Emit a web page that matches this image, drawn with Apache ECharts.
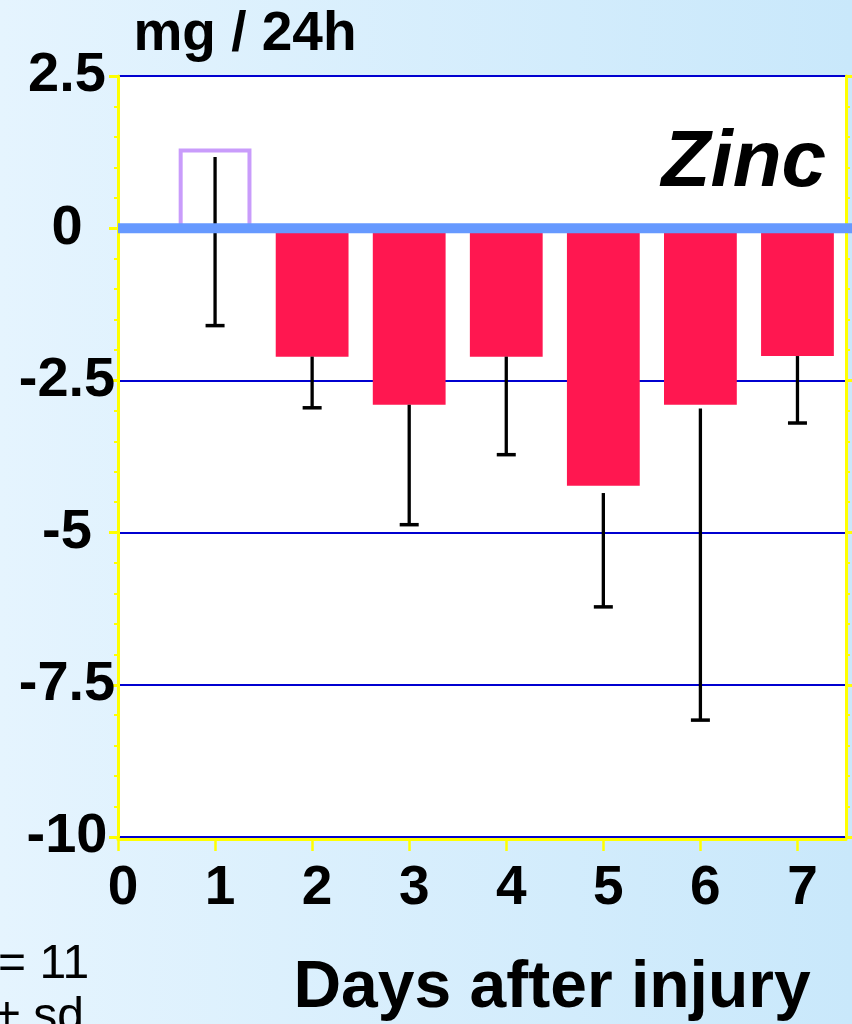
<!DOCTYPE html>
<html><head><meta charset="utf-8">
<script src="https://cdn.jsdelivr.net/npm/echarts@6/dist/echarts.min.js"></script>
<style>html,body{margin:0;padding:0;background:#fff;}#c{width:852px;height:1024px;}</style>
</head><body><div id="c"></div>
<script>
// ---- data ----
const days = [1, 2, 3, 4, 5, 6, 7];
const means = [1.31, -2.11, -2.9, -2.11, -4.23, -2.9, -2.1];
const sdHigh = [1.17, -2.11, -2.9, -2.11, -4.35, -2.96, -2.1];
const sdLow = [-1.6, -2.95, -4.87, -3.72, -6.22, -8.08, -3.2];
const xTicks = [0, 1, 2, 3, 4, 5, 6, 7];
const yTicks = [2.5, 0, -2.5, -5, -7.5, -10];
const yUnit = 'mg / 24h';
const xTitle = 'Days after injury';
const mineral = 'Zinc';
const noteN = 'n = 11';
const noteSd = '± sd';

const FONT = "'Liberation Sans', Arial, Helvetica, sans-serif";
const YEL = '#FFFF00';

const chart = echarts.init(document.getElementById('c'));
const yAxisCommon = {
  type: 'value', min: -10, max: 2.5, interval: 2.5
};
chart.setOption({
  animation: false,
  backgroundColor: {
    type: 'linear', x: 0, y: 0, x2: 1, y2: 0,
    colorStops: [{offset: 0, color: '#E5F4FE'}, {offset: 1, color: '#C9E8FB'}]
  },
  grid: {left: 118, right: 6, top: 76, bottom: 187, show: true, backgroundColor: '#FFFFFF', borderWidth: 0},
  xAxis: {
    type: 'value', min: 0, max: 7.5, interval: 1, offset: 2, z: 3,
    axisLine: {show: true, onZero: false, lineStyle: {color: YEL, width: 3}},
    axisTick: {show: true, length: 12, customValues: xTicks, lineStyle: {color: YEL, width: 2.5}},
    axisLabel: {
      customValues: xTicks, margin: 22, padding: [0, 0, 0, 10],
      color: '#000', fontFamily: FONT, fontWeight: 'bold', fontSize: 55
    },
    splitLine: {show: false}
  },
  yAxis: [
    Object.assign({}, yAxisCommon, {
      position: 'left',
      axisLine: {show: true, onZero: false, lineStyle: {color: YEL, width: 3}},
      axisTick: {show: true, length: 9, lineStyle: {color: YEL, width: 3}},
      minorTick: {show: true, splitNumber: 5, length: 4, lineStyle: {color: YEL, width: 2}},
      axisLabel: {
        customValues: yTicks, align: 'center', margin: 51,
        color: '#000', fontFamily: FONT, fontWeight: 'bold', fontSize: 56,
        formatter: v => String(v)
      },
      splitLine: {show: true, lineStyle: {color: '#0000D0', width: 2}}
    }),
    Object.assign({}, yAxisCommon, {
      position: 'right',
      axisLine: {show: true, onZero: false, lineStyle: {color: YEL, width: 3}},
      axisTick: {show: true, length: 6, lineStyle: {color: YEL, width: 3}},
      minorTick: {show: true, splitNumber: 5, length: 4, lineStyle: {color: YEL, width: 2}},
      axisLabel: {show: false},
      splitLine: {show: false}
    })
  ],
  graphic: [
    {type: 'text', x: 245, y: 35, style: {text: yUnit, font: "bold 55px " + FONT, fill: '#000', textAlign: 'center', textVerticalAlign: 'middle'}},
    {type: 'text', x: 826, y: 164, z: 10, style: {text: mineral, font: "italic bold 80px " + FONT, fill: '#000', textAlign: 'right', textVerticalAlign: 'middle'}},
    {type: 'text', x: 552, y: 989, style: {text: xTitle, font: "bold 66px " + FONT, fill: '#000', textAlign: 'center', textVerticalAlign: 'middle'}},
    {type: 'text', x: -42, y: 965, style: {text: noteN, font: "48px " + FONT, fill: '#000', textAlign: 'left', textVerticalAlign: 'middle'}},
    {type: 'text', x: 84, y: 1018, style: {text: noteSd, font: "48px " + FONT, fill: '#000', textAlign: 'right', textVerticalAlign: 'middle'}}
  ],
  series: [
    {
      type: 'custom', z: 2, clip: false,
      data: days.map((d, i) => [d, means[i]]),
      renderItem(params, api) {
        const d = api.value(0), v = api.value(1);
        const half = 0.375;
        const p0 = api.coord([d - half, 0]), p1 = api.coord([d + half, v]);
        const x = p0[0], w = p1[0] - p0[0];
        const y = Math.min(p0[1], p1[1]), h = Math.abs(p1[1] - p0[1]);
        if (v > 0) {
          return {type: 'rect', shape: {x: x + 2, y: y + 2, width: w - 4, height: h}, style: {fill: 'none', stroke: '#C99CFB', lineWidth: 4}};
        }
        return {type: 'rect', shape: {x: x, y: y, width: w, height: h}, style: {fill: '#FF1750'}};
      }
    },
    {
      type: 'custom', z: 3, clip: false,
      data: days.map((d, i) => [d, sdHigh[i], sdLow[i]]),
      renderItem(params, api) {
        const d = api.value(0);
        const top = api.coord([d, api.value(1)]), bot = api.coord([d, api.value(2)]);
        return {type: 'group', children: [
          {type: 'line', shape: {x1: top[0], y1: top[1], x2: bot[0], y2: bot[1]}, style: {stroke: '#000', lineWidth: 3.3}},
          {type: 'line', shape: {x1: bot[0] - 9.5, y1: bot[1], x2: bot[0] + 9.5, y2: bot[1]}, style: {stroke: '#000', lineWidth: 3.5}}
        ]};
      }
    },
    {
      type: 'custom', z: 4, clip: false,
      data: [[0, 0]],
      renderItem(params, api) {
        const p = api.coord([api.value(0), api.value(1)]);
        return {type: 'line', shape: {x1: p[0], y1: p[1], x2: api.getWidth(), y2: p[1]}, style: {stroke: '#6699FF', lineWidth: 10}};
      }
    }
  ]
});
</script></body></html>
